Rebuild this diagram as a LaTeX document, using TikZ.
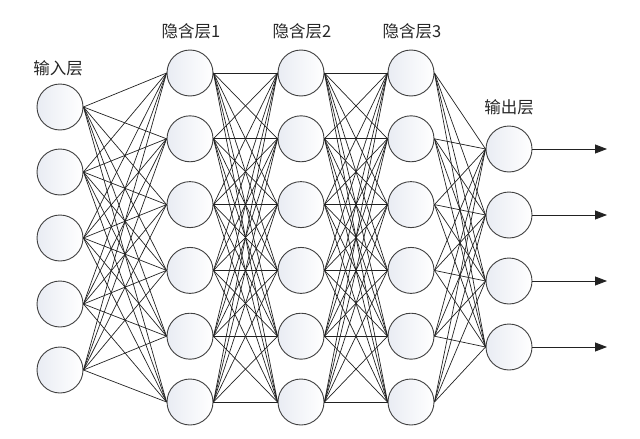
\documentclass[tikz,border=0pt]{standalone}
\usepackage{fontspec}
\newfontfamily\cjk{Noto Sans CJK SC}
\usepackage{tikz}
\usetikzlibrary{arrows.meta}
\definecolor{nodeshade}{HTML}{E9ECF3}
\definecolor{wire}{HTML}{222222}

\begin{document}
\begin{tikzpicture}[x=1pt,y=-1pt,
  neuron/.style={circle, draw=black!75, line width=0.9pt, minimum size=46pt, inner sep=0pt,
    left color=nodeshade, right color=white},
  link/.style={wire, line width=0.7pt},
  outarrow/.style={wire, line width=0.8pt, -{Triangle[length=12pt,width=9pt]}},
  layerlabel/.style={font=\cjk\fontsize{16.5}{16.5}\selectfont, text=black!85}]
  \useasboundingbox (0,0) rectangle (640,439);

  % input layer
  \foreach \i/\y in {1/107,2/172,3/238,4/304,5/370}
    \node[neuron] (in\i) at (60,\y) {};

  % hidden layers
  \foreach \l/\x in {A/190,B/301,C/411}
    \foreach \i in {1,...,6}
      \node[neuron] (h\l\i) at (\x,{73+65.8*(\i-1)}) {};

  % output layer
  \foreach \i in {1,...,4}
    \node[neuron] (out\i) at (509,{149+66*(\i-1)}) {};

  % connections
  \foreach \i in {1,...,5}
    \foreach \j in {1,...,6}
      \draw[link] (in\i.east) -- (hA\j.west);
  \foreach \i in {1,...,6}
    \foreach \j in {1,...,6} {
      \draw[link] (hA\i.east) -- (hB\j.west);
      \draw[link] (hB\i.east) -- (hC\j.west);
    }
  \foreach \i in {1,...,6}
    \foreach \j in {1,...,4}
      \draw[link] (hC\i.east) -- (out\j.west);

  % outputs
  \foreach \i in {1,...,4} {
    \coordinate (end\i) at (607,{149+66*(\i-1)});
    \draw[outarrow] (out\i.east) -- (end\i);
  }

  % labels
  \node[layerlabel] (lblIn) at (58,68) {输入层};
  \node[layerlabel] (lblA) at (191,31) {隐含层1};
  \node[layerlabel] (lblB) at (302,31) {隐含层2};
  \node[layerlabel] (lblC) at (412,31) {隐含层3};
  \node[layerlabel] (lblOut) at (509,107) {输出层};
\end{tikzpicture}
\end{document}
